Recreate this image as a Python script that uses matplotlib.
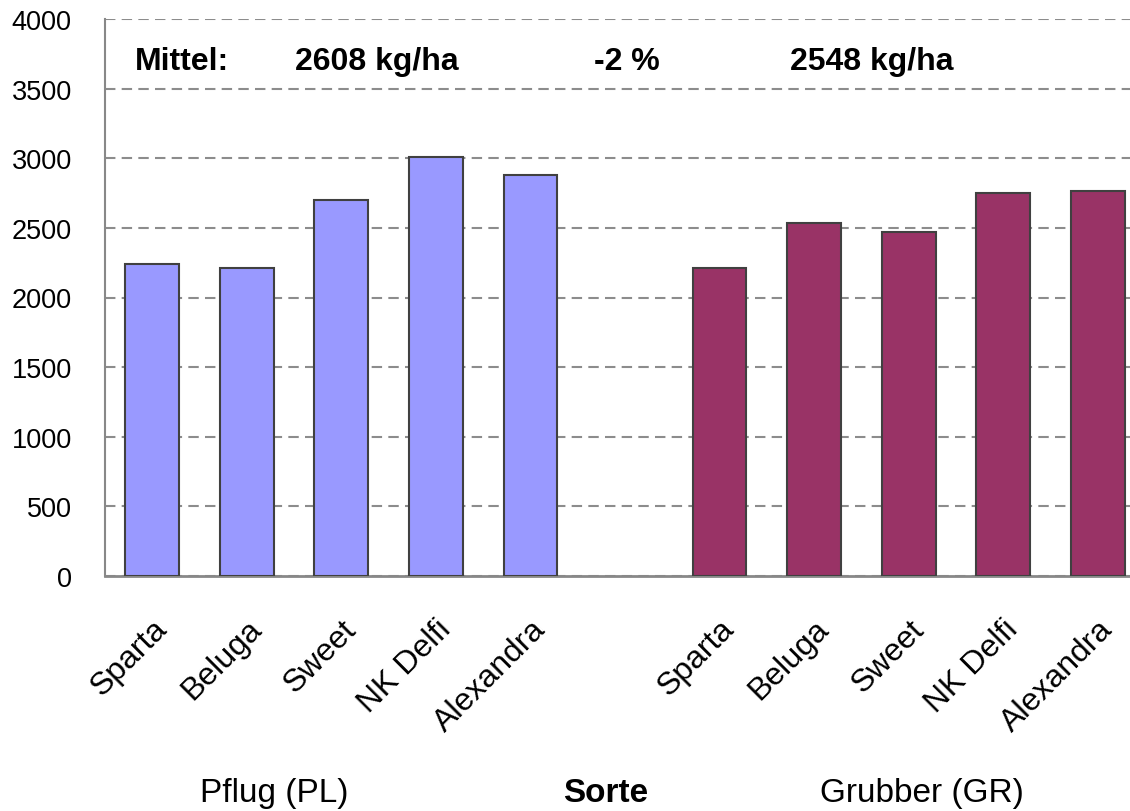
import matplotlib
matplotlib.use("Agg")
import matplotlib.pyplot as plt
import numpy as np

plt.rcParams['font.family'] = ['Liberation Sans', 'DejaVu Sans']

sorten = ["Sparta", "Beluga", "Sweet", "NK Delfi", "Alexandra"]
pflug = [2243, 2212, 2700, 3007, 2880]
grubber = [2212, 2537, 2473, 2750, 2765]
yticks = [0, 500, 1000, 1500, 2000, 2500, 3000, 3500, 4000]
mittel_texts = ["Mittel:", "2608 kg/ha", "-2 %", "2548 kg/ha"]
group_labels = ["Pflug (PL)", "Sorte", "Grubber (GR)"]

fig = plt.figure(figsize=(11.30, 8.12), dpi=100)
ax = fig.add_axes([105/1130, 235/812, 1040/1130, 557/812])

x_pl = np.arange(5)
x_gr = np.arange(6, 11)
w = 0.57
ax.bar(x_pl, pflug, width=w, color="#9999FF", edgecolor="#404040", linewidth=1.5, zorder=3)
ax.bar(x_gr, grubber, width=w, color="#993366", edgecolor="#404040", linewidth=1.5, zorder=3)

ax.set_xlim(-0.5, 10.5)
ax.set_ylim(0, 4000)
ax.set_yticks(yticks)
ax.set_yticklabels([str(t) for t in yticks], fontsize=19.5)
ax.tick_params(axis='y', length=0, pad=24)
ax.yaxis.grid(True, linestyle=(0, (5, 3)), color="#8c8c8c", linewidth=1.5, zorder=0)
ax.set_axisbelow(True)

ax.set_xticks(list(x_pl) + list(x_gr))
ax.set_xticklabels(sorten + sorten, rotation=45, ha='right', rotation_mode='anchor', fontsize=23)
ax.tick_params(axis='x', length=0, pad=27)

for s in ['top', 'right']:
    ax.spines[s].set_visible(False)
ax.spines['left'].set_color("#888888")
ax.spines['left'].set_linewidth(1.5)
ax.spines['bottom'].set_color("#888888")
ax.spines['bottom'].set_linewidth(2)

# Mittel annotation
xs = [135, 295, 594, 790]
for t, xp in zip(mittel_texts, xs):
    fig.text(xp/1130, 1 - 70/812, t, fontsize=23, fontweight='bold', ha='left', va='baseline')

# group labels
gx = [274, 606, 922]
weights = ['normal', 'bold', 'normal']
for t, xp, fw in zip(group_labels, gx, weights):
    fig.text(xp/1130, 1 - 802/812, t, fontsize=24, fontweight=fw, ha='center', va='baseline')

fig.savefig("out.png", dpi=100)
